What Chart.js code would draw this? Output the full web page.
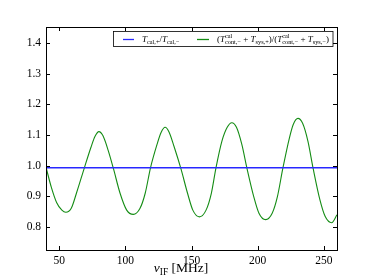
<!DOCTYPE html>
<html>
<head>
<meta charset="utf-8">
<script src="https://cdn.jsdelivr.net/npm/chart.js@4"></script>
<style>
  html, body { margin: 0; padding: 0; background: #fff; }
  canvas { display: block; }
</style>
</head>
<body>
<canvas id="ratioChart" width="374" height="280"></canvas>
<script>
// frequencies (MHz) and ratios
const calFreq = [40, 100, 150, 200, 260];
const calRatio = [0.993, 0.993, 0.993, 0.993, 0.993];

const sysFreq = [40, 44, 48, 52, 55, 59, 63, 69, 74, 77, 80, 83, 87, 91, 96, 101, 106, 111, 115, 119,
    124, 127, 130, 133, 137, 142, 147, 151, 156, 161, 165, 168.5, 173, 177, 180.5, 184, 188, 192,
    197, 201, 206, 211, 215, 219, 224, 227, 230.5, 234, 238, 242, 247, 251, 256, 260];
const sysRatio = [0.995, 0.93, 0.88, 0.855, 0.848, 0.86, 0.91, 0.993, 1.06, 1.095, 1.111, 1.098, 1.05, 0.99, 0.91, 0.855, 0.841, 0.86, 0.91, 0.993,
    1.07, 1.108, 1.125, 1.11, 1.06, 0.99, 0.91, 0.855, 0.833, 0.855, 0.91, 0.993, 1.08, 1.125, 1.14, 1.125, 1.07, 0.99,
    0.9, 0.845, 0.824, 0.845, 0.9, 0.99, 1.09, 1.135, 1.154, 1.138, 1.08, 0.99, 0.89, 0.835, 0.814, 0.84];

const xTicks = [50, 100, 150, 200, 250];
const yTicks = [0.8, 0.9, 1.0, 1.1, 1.2, 1.3, 1.4];

const SERIF = '"Liberation Serif", "DejaVu Serif", serif';
const BLUE = 'rgb(40, 40, 255)';
const GREEN = 'rgb(20, 140, 20)';

// draw a string made of pieces: {t, it, sub, stack}
function richWidth(ctx, parts, size) {
    let w = 0;
    parts.forEach(p => {
        const s = p.sub ? size * 0.7 : size;
        ctx.font = (p.it ? 'italic ' : '') + s + 'px ' + SERIF;
        if (!p.stack) w += ctx.measureText(p.t).width;
        else w += Math.max(ctx.measureText(p.t).width, ctx.measureText(p.t2).width);
    });
    return w;
}
function drawRich(ctx, parts, x, y, size) {
    ctx.textBaseline = 'alphabetic';
    ctx.textAlign = 'left';
    parts.forEach(p => {
        const s = p.sub ? size * 0.7 : size;
        ctx.font = (p.it ? 'italic ' : '') + s + 'px ' + SERIF;
        if (p.stack) {
            ctx.fillText(p.t, x, y - size * 0.4);
            ctx.fillText(p.t2, x, y + size * 0.25);
            x += Math.max(ctx.measureText(p.t).width, ctx.measureText(p.t2).width);
        } else {
            ctx.fillText(p.t, x, y + (p.sub ? size * 0.25 : 0));
            x += ctx.measureText(p.t).width;
        }
    });
}

const legendItems = [
    { color: BLUE, parts: [
        { t: 'T', it: true }, { t: 'cal,+', sub: true }, { t: '/' },
        { t: 'T', it: true }, { t: 'cal,\u2212', sub: true }] },
    { color: GREEN, parts: [
        { t: '(' }, { t: 'T', it: true }, { t: 'cal', t2: 'cont,\u2212', stack: true, sub: true },
        { t: ' + ' }, { t: 'T', it: true }, { t: 'sys,+', sub: true }, { t: ')/(' },
        { t: 'T', it: true }, { t: 'cal', t2: 'cont,\u2212', stack: true, sub: true },
        { t: ' + ' }, { t: 'T', it: true }, { t: 'sys,\u2212', sub: true }, { t: ')' }] }
];

const framePlugin = {
    id: 'frame',
    afterDraw(chart) {
        const c = chart.ctx;
        const a = chart.chartArea;
        const xs = chart.scales.x, ys = chart.scales.y;
        c.save();
        c.strokeStyle = '#000';
        c.lineWidth = 1;
        // inward ticks on all four sides
        c.beginPath();
        xTicks.forEach(v => {
            const px = Math.round(xs.getPixelForValue(v)) + 0.5;
            c.moveTo(px, a.bottom); c.lineTo(px, a.bottom - 4);
            c.moveTo(px, a.top); c.lineTo(px, a.top + 4);
        });
        yTicks.forEach(v => {
            const py = Math.round(ys.getPixelForValue(v)) + 0.5;
            c.moveTo(a.left, py); c.lineTo(a.left + 4, py);
            c.moveTo(a.right, py); c.lineTo(a.right - 4, py);
        });
        c.stroke();
        c.strokeRect(Math.round(a.left) + 0.5, Math.round(a.top) + 0.5,
            Math.round(a.right - a.left), Math.round(a.bottom - a.top));

        // legend box
        const bx = 113.5, by = 31.5, bw = a.right - 4 - bx, bh = 15;
        c.fillStyle = '#fff';
        c.fillRect(bx, by, bw, bh);
        c.lineWidth = 0.8;
        c.strokeRect(bx, by, bw, bh);
        const entries = [{ x: 123, w: 11, tx: 142, size: 9 }, { x: 197, w: 12, tx: 217, size: 9 }];
        legendItems.forEach((it, i) => {
            const e = entries[i];
            c.beginPath();
            c.strokeStyle = it.color;
            c.lineWidth = 1.3;
            c.moveTo(e.x, 39.5);
            c.lineTo(e.x + e.w, 39.5);
            c.stroke();
            c.fillStyle = '#000';
            let size = e.size;
            if (i === 1) {
                const w = richWidth(c, it.parts, size);
                size = size * Math.min(1, (bx + bw - 3 - e.tx) / w);
            }
            drawRich(c, it.parts, e.tx, 42, size);
        });

        // x axis title
        c.fillStyle = '#000';
        const title = [{ t: '\u03bd', it: true }, { t: 'IF', sub: true }, { t: ' [MHz]' }];
        const tw = richWidth(c, title, 13.5);
        drawRich(c, title, 181 - tw / 2, 272, 13.5);
        c.restore();
    }
};

const chartCtx = document.getElementById('ratioChart').getContext('2d');
new Chart(chartCtx, {
    type: 'line',
    data: {
        datasets: [{
            label: 'cal',
            data: calFreq.map((f, i) => ({ x: f, y: calRatio[i] })),
            borderColor: BLUE,
            borderWidth: 1.4,
            pointRadius: 0,
            tension: 0
        }, {
            label: 'sys',
            data: sysFreq.map((f, i) => ({ x: f, y: sysRatio[i] })),
            borderColor: GREEN,
            borderWidth: 1.1,
            pointRadius: 0,
            cubicInterpolationMode: 'monotone'
        }]
    },
    options: {
        responsive: false,
        animation: false,
        layout: { padding: { left: 0, right: 37, top: 27, bottom: 0 } },
        plugins: { legend: { display: false }, tooltip: { enabled: false } },
        scales: {
            x: {
                type: 'linear',
                min: 40, max: 260,
                afterBuildTicks: s => { s.ticks = xTicks.map(v => ({ value: v })); },
                afterFit: s => { s.height = 30; },
                grid: { display: false, drawTicks: false },
                border: { display: false },
                ticks: { padding: 4, color: '#000', font: { family: SERIF, size: 11.5 } }
            },
            y: {
                min: 0.725, max: 1.452,
                afterBuildTicks: s => { s.ticks = yTicks.map(v => ({ value: v })); },
                afterFit: s => { s.width = 46; },
                grid: { display: false, drawTicks: false },
                border: { display: false },
                ticks: { padding: 5, color: '#000', font: { family: SERIF, size: 11.5 },
                    callback: v => v.toFixed(1) }
            }
        }
    },
    plugins: [framePlugin]
});
</script>
</body>
</html>
